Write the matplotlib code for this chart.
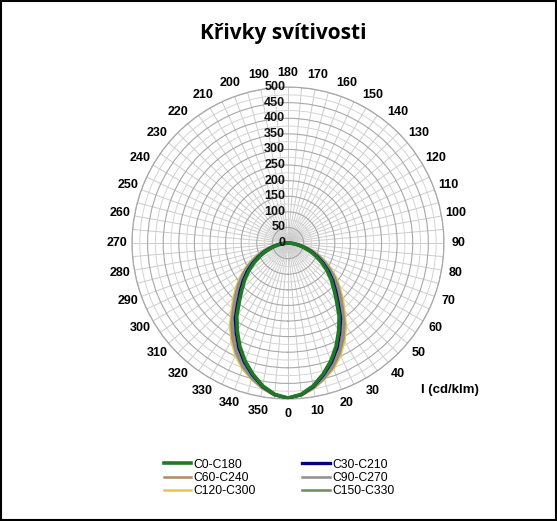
import numpy as np
import matplotlib
matplotlib.use("Agg")
import matplotlib.pyplot as plt

# gamma angles (deg) for one half-plane, intensity in cd/klm
gamma = [0, 5, 10, 15, 20, 25, 30, 35, 40, 45, 50, 55, 60, 65, 70, 75, 80, 85,
         90, 95, 100, 110, 120, 130, 140, 150, 160, 170, 180]

c0_c180 = [497, 487, 465, 435, 402, 365, 325, 286, 242, 208, 180, 152, 125, 98,
           74, 50, 30, 14, 5, 2, 1, 0, 0, 0, 0, 0, 0, 0, 0]
c30_c210 = [497, 488, 467, 438, 407, 372, 332, 294, 250, 216, 187, 159, 131, 104,
            79, 54, 34, 16, 5, 2, 1, 0, 0, 0, 0, 0, 0, 0, 0]
c60_c240 = [497, 489, 470, 445, 418, 385, 347, 309, 265, 231, 201, 172, 143, 115,
            89, 63, 41, 19, 6, 2, 1, 0, 0, 0, 0, 0, 0, 0, 0]
c90_c270 = [497, 490, 472, 449, 423, 391, 355, 316, 273, 239, 208, 178, 149, 120,
            94, 68, 44, 21, 7, 3, 1, 0, 0, 0, 0, 0, 0, 0, 0]
c120_c300 = [497, 491, 474, 452, 428, 398, 362, 324, 281, 247, 215, 185, 155, 126,
             99, 72, 48, 23, 7, 3, 1, 0, 0, 0, 0, 0, 0, 0, 0]
c150_c330 = [497, 487, 466, 437, 405, 369, 329, 291, 247, 213, 184, 156, 129, 101,
             77, 53, 32, 15, 5, 2, 1, 0, 0, 0, 0, 0, 0, 0, 0]

series = [
    ("C0-C180", c0_c180, "#1f7a24", 2.6),
    ("C30-C210", c30_c210, "#000088", 2.4),
    ("C60-C240", c60_c240, "#b08b5e", 1.8),
    ("C90-C270", c90_c270, "#8e8e8e", 1.8),
    ("C120-C300", c120_c300, "#e3c84c", 1.8),
    ("C150-C330", c150_c330, "#6e8c5a", 1.8),
]
zorders = [8, 7, 4, 5, 3, 6]

fig = plt.figure(figsize=(5.57, 5.21), dpi=100)
ax = fig.add_axes([0.237, 0.234, 0.560, 0.599], projection="polar")
ax.set_theta_zero_location("S")
ax.set_theta_direction(1)
ax.set_ylim(0, 500)

g = np.radians(gamma)
handles = []
for (name, vals, col, lw), z in zip(series, zorders):
    vals = np.array(vals, dtype=float)
    th = np.concatenate([-g[::-1], g[1:]])
    r = np.concatenate([vals[::-1], vals[1:]])
    h, = ax.plot(th, r, color=col, lw=lw, zorder=z, label=name)
    handles.append(h)

# grid
ax.set_xticks(np.radians(np.arange(0, 360, 5)))
ax.set_xticklabels([str(a) if a % 10 == 0 else "" for a in range(0, 360, 5)],
                   fontsize=9, fontweight="bold", family="Liberation Sans")
ax.tick_params(axis="x", pad=0)
ax.xaxis.grid(True, color="#cccccc", lw=0.7)
ax.set_yticks(np.arange(25, 501, 25))
ax.set_yticklabels([])
ax.yaxis.grid(True)
for i, gl in enumerate(ax.yaxis.get_gridlines()):
    if (i + 1) % 2 == 0:
        gl.set_color("#a8a8a8")
        gl.set_linewidth(0.8)
    else:
        gl.set_color("#d4d4d4")
        gl.set_linewidth(0.7)
ax.spines["polar"].set_color("#a8a8a8")
ax.spines["polar"].set_linewidth(0.9)

for rv in range(0, 501, 50):
    ax.annotate(str(rv), xy=(np.pi, rv), xytext=(-2, 0), textcoords="offset points",
                ha="right", va="center", fontsize=9, fontweight="bold",
                family="Liberation Sans", color="#111111", zorder=10)

fig.text(0.508, 0.935, "Křivky svítivosti", ha="center", va="center",
         fontsize=15, fontweight="bold", family="Open Sans")
fig.text(0.808, 0.252, "I (cd/klm)", ha="center", va="center",
         fontsize=9.5, fontweight="bold", family="Liberation Sans")

leg = fig.legend(handles=[handles[0], handles[2], handles[4], handles[1], handles[3], handles[5]],
                 labels=["C0-C180", "C60-C240", "C120-C300", "C30-C210", "C90-C270", "C150-C330"],
                 loc="upper left", bbox_to_anchor=(0.285, 0.129), ncol=2, frameon=False,
                 prop={"family": "Liberation Sans", "size": 8.7}, handlelength=2.3,
                 handletextpad=0.2, columnspacing=3.8, labelspacing=0.1, borderaxespad=0)

fig.patches.append(plt.Rectangle((0.002, 0.002), 0.996, 0.996, transform=fig.transFigure,
                                 fill=False, edgecolor="black", lw=1.5))

fig.savefig("out.png", dpi=100)
